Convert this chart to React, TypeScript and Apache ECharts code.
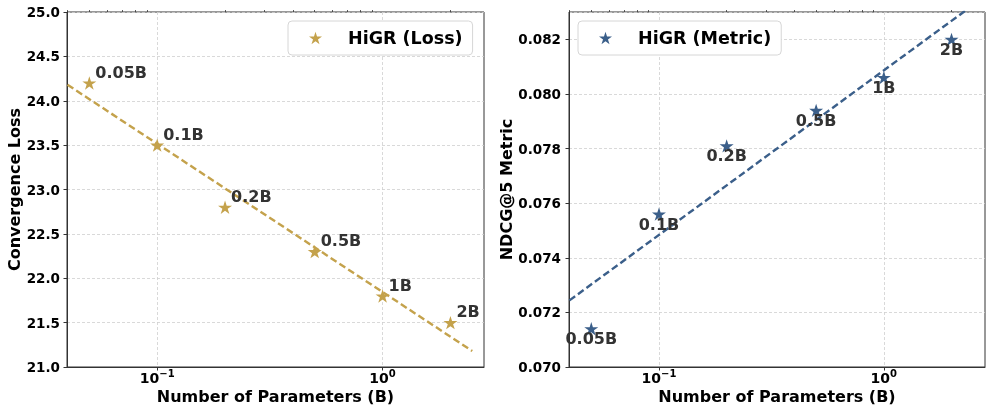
import React, { useEffect, useRef } from "react";
import * as echarts from "echarts";

// ---- data ----
const paramLabels = ["0.05B", "0.1B", "0.2B", "0.5B", "1B", "2B"];
const params = [0.05, 0.1, 0.2, 0.5, 1, 2];
const lossValues = [24.2, 23.5, 22.8, 22.3, 21.8, 21.5];
const metricValues = [0.0714, 0.0756, 0.0781, 0.0794, 0.0806, 0.082];
// fitted dashed lines, read as end points [params, value]
const lossFit = [
  [0.04, 24.18],
  [2.5, 21.18],
];
const metricFit = [
  [0.04, 0.07244],
  [2.5, 0.08326],
];
const majorTicks = [0.1, 1];
const majorTickExponents = ["\u22121", "0"];
const minorTicks = [0.04, 0.05, 0.06, 0.07, 0.08, 0.09, 0.2, 0.3, 0.4, 0.5, 0.6, 0.7, 0.8, 0.9, 2];
const xRange = [0.0398, 2.818];

const GOLD = "#C4A24C";
const BLUE = "#3B5F8A";
const FONT = "DejaVu Sans";
const STAR =
  "path://M50 0 L61.17 34.63 L97.55 34.55 L68.07 55.87 L79.39 90.45 L50 69 L20.61 90.45 L31.93 55.87 L2.45 34.55 L38.83 34.63 Z";

const lg = (v: number) => Math.log10(v);

export default function App() {
  const ref = useRef<HTMLDivElement>(null);
  useEffect(() => {
    if (!ref.current) return;
    const chart = echarts.init(ref.current, undefined, { renderer: "svg" });

    const labelFor = (v: number) => {
      const i = majorTicks.findIndex((t) => Math.abs(lg(t) - v) < 1e-6);
      return i < 0 ? "" : `{b|10}{s|${majorTickExponents[i]}}`;
    };

    const mainX = (gridIndex: number) => ({
      type: "value",
      gridIndex,
      min: lg(xRange[0]),
      max: lg(xRange[1]),
      name: "Number of Parameters (B)",
      nameLocation: "middle",
      nameGap: 21,
      nameMoveOverlap: false,
      nameTextStyle: { fontFamily: FONT, fontWeight: "bold", fontSize: 16, color: "#000" },
      axisLine: { show: true, onZero: false, lineStyle: { color: "#333", width: 1 } },
      axisTick: { show: true, length: 3.5, lineStyle: { color: "#333" }, customValues: majorTicks.map(lg) },
      axisLabel: {
        show: true,
        customValues: majorTicks.map(lg),
        formatter: (v: number) => labelFor(v),
        color: "#000",
        margin: 3,
        rich: {
          b: { fontFamily: FONT, fontWeight: "bold", fontSize: 14, color: "#000", lineHeight: 16 },
          s: { fontFamily: FONT, fontWeight: "bold", fontSize: 10, color: "#000", lineHeight: 10, padding: [0, 0, 9, 0] },
        },
      },
      splitLine: { show: true, lineStyle: { color: "#cfcfcf", type: [3, 2], width: 0.8 } },
    });
    const minorX = (gridIndex: number) => ({
      type: "value",
      gridIndex,
      min: lg(xRange[0]),
      max: lg(xRange[1]),
      axisLine: { show: false, onZero: false },
      axisTick: { show: true, length: 2, lineStyle: { color: "#333", width: 0.8 }, customValues: minorTicks.map(lg) },
      axisLabel: { show: false },
      splitLine: { show: false },
    });

    const yBase = {
      type: "value",
      nameLocation: "middle",
      nameTextStyle: { fontFamily: FONT, fontWeight: "bold", fontSize: 16, color: "#000" },
      axisLine: { show: true, onZero: false, lineStyle: { color: "#333", width: 1 } },
      axisTick: { show: true, length: 3.5, lineStyle: { color: "#333" } },
      splitLine: { show: true, lineStyle: { color: "#cfcfcf", type: [3, 2], width: 0.8 } },
    };

    const legendBase = {
      orient: "horizontal",
      top: 21,
      padding: [8, 10, 8, 21],
      itemWidth: 13,
      itemHeight: 13,
      backgroundColor: "#fff",
      borderColor: "#d6d6d6",
      borderWidth: 1,
      borderRadius: 4,
      textStyle: { fontFamily: FONT, fontWeight: "bold", fontSize: 17.5, color: "#000", padding: [0, 0, 0, 21] },
    };

    const pointLabel = {
      show: true,
      position: "inside",
      formatter: (p: any) => p.name,
      fontFamily: FONT,
      fontWeight: "bold",
      fontSize: 16,
      color: "#333",
      textBorderWidth: 0,
      opacity: 1,
    };

    chart.setOption({
      animation: false,
      textStyle: { fontFamily: FONT },
      grid: [
        { left: 67, top: 12, width: 417, height: 355, show: true, borderColor: "#333", borderWidth: 1, containLabel: false },
        { left: 569, top: 12, width: 416, height: 355, show: true, borderColor: "#333", borderWidth: 1, containLabel: false },
      ],
      xAxis: [mainX(0), minorX(0), mainX(1), minorX(1)],
      yAxis: [
        {
          ...yBase,
          gridIndex: 0,
          min: 21,
          max: 25,
          interval: 0.5,
          name: "Convergence Loss",
          nameGap: 44,
          axisLabel: {
            formatter: (v: number) => v.toFixed(1),
            fontFamily: FONT,
            fontWeight: "bold",
            fontSize: 13.5,
            color: "#000",
            margin: 7,
          },
        },
        {
          ...yBase,
          gridIndex: 1,
          min: 0.07,
          max: 0.083,
          interval: 0.002,
          name: "NDCG@5 Metric",
          nameGap: 53,
          axisLabel: {
            formatter: (v: number) => v.toFixed(3),
            fontFamily: FONT,
            fontWeight: "bold",
            fontSize: 13.5,
            color: "#000",
            margin: 8,
            showMaxLabel: false,
          },
        },
      ],
      legend: [
        { ...legendBase, left: 288, data: [{ name: "HiGR (Loss)", icon: STAR, itemStyle: { color: GOLD, opacity: 1 } }] },
        { ...legendBase, left: 578, data: [{ name: "HiGR (Metric)", icon: STAR, itemStyle: { color: BLUE, opacity: 1 } }] },
      ],
      series: [
        {
          name: "Loss fit",
          type: "line",
          xAxisIndex: 0,
          yAxisIndex: 0,
          data: lossFit.map(([x, y]) => [lg(x), y]),
          showSymbol: false,
          symbol: "none",
          lineStyle: { color: GOLD, width: 2.4, type: [7, 3.5] },
          z: 3,
          silent: true,
        },
        {
          name: "HiGR (Loss)",
          type: "scatter",
          xAxisIndex: 0,
          yAxisIndex: 0,
          symbol: STAR,
          symbolSize: 14,
          symbolKeepAspect: true,
          itemStyle: { color: GOLD, opacity: 1 },
          data: params.map((p, i) => ({ value: [lg(p), lossValues[i]], name: paramLabels[i] })),
          label: { ...pointLabel, align: "left", offset: [6, -11] },
          z: 4,
        },
        {
          name: "Metric fit",
          type: "line",
          xAxisIndex: 2,
          yAxisIndex: 1,
          data: metricFit.map(([x, y]) => [lg(x), y]),
          showSymbol: false,
          symbol: "none",
          clip: true,
          lineStyle: { color: BLUE, width: 2.4, type: [7, 3.5] },
          z: 3,
          silent: true,
        },
        {
          name: "HiGR (Metric)",
          type: "scatter",
          xAxisIndex: 2,
          yAxisIndex: 1,
          symbol: STAR,
          symbolSize: 14,
          symbolKeepAspect: true,
          itemStyle: { color: BLUE, opacity: 1 },
          data: params.map((p, i) => ({ value: [lg(p), metricValues[i]], name: paramLabels[i] })),
          label: { ...pointLabel, align: "center", offset: [0, 10] },
          z: 4,
        },
      ],
    });
    return () => chart.dispose();
  }, []);
  return <div ref={ref} style={{ position: "fixed", left: 0, top: 0, width: 993, height: 415 }} />;
}
